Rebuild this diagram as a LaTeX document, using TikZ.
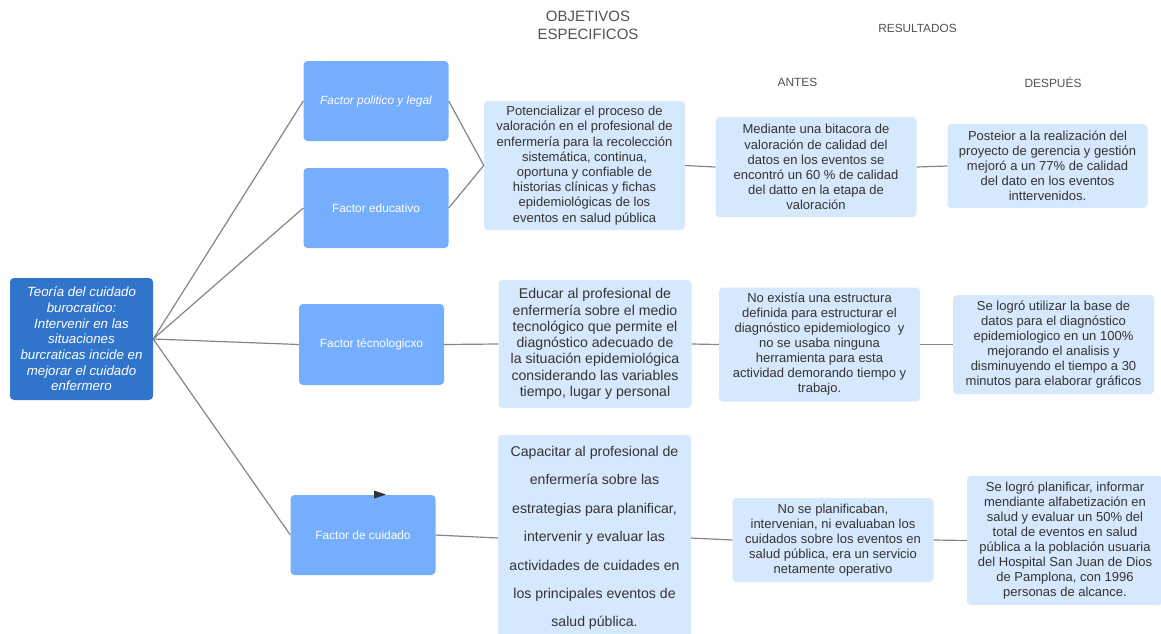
\documentclass[tikz,border=0pt]{standalone}
\usepackage{fontspec}
\setmainfont{Liberation Sans}
\usepackage{tikz}

\definecolor{rootblue}{HTML}{3074CC}
\definecolor{factorblue}{HTML}{74AEFC}
\definecolor{paleblue}{HTML}{D6E8FD}
\definecolor{inkgray}{HTML}{333333}
\definecolor{linkgray}{HTML}{858585}

\tikzset{
	rootbox/.style={draw=none,fill=rootblue,rounded corners=4pt,inner sep=0pt,align=center,text=white,
		minimum width=143pt,minimum height=122pt,font=\fontsize{13.3}{15.7}\selectfont\itshape},
	factorbox/.style={draw=none,fill=factorblue,rounded corners=4pt,inner sep=0pt,align=center,text=white,
		minimum width=145pt,minimum height=79pt,font=\fontsize{11.9}{14}\selectfont},
	objbox/.style={draw=none,fill=paleblue,rounded corners=4pt,inner sep=0pt,align=center,text=inkgray},
	header/.style={text=inkgray!85,align=center,inner sep=0pt},
	link/.style={draw=linkgray,line width=1.2pt},
}

\begin{document}
\begin{tikzpicture}[x=1pt,y=-1pt]
	\useasboundingbox (0,0) rectangle (1161,633);

	% headers
	\node[header,font=\fontsize{15}{17.7}\selectfont] (hobj) at (588,25.5) {OBJETIVOS\\ESPECIFICOS};
	\node[header,font=\fontsize{11.8}{14}\selectfont] (hres) at (917.5,28) {RESULTADOS};
	\node[header,font=\fontsize{11.9}{14}\selectfont] (hantes) at (797.5,82) {ANTES};
	\node[header,font=\fontsize{11.9}{14}\selectfont] (hdesp) at (1053,82) {DESPUÉS};

	% theory and factors
	\node[rootbox] (teoria) at (81.5,339) {Teoría del cuidado\\burocratico:\\Intervenir en las\\situaciones\\burcraticas incide en\\mejorar el cuidado\\enfermero};
	\node[factorbox,font=\fontsize{11.9}{14}\selectfont\itshape,minimum height=80pt] (fpol) at (376,101) {Factor politico y legal};
	\node[factorbox,minimum height=80pt] (fedu) at (376,208) {Factor educativo};
	\node[factorbox,minimum height=81pt] (ftec) at (371.5,344.5) {Factor técnologicxo};
	\node[factorbox,minimum height=80pt] (fcui) at (363,535) {Factor de cuidado};

	% objetivos
	\node[objbox,minimum width=201pt,minimum height=129pt,font=\fontsize{13}{15.2}\selectfont] (obj1) at (584.5,165.5)
		{Potencializar el proceso de\\valoración en el profesional de\\enfermería para la recolección\\sistemática, continua,\\oportuna y confiable de\\historias clínicas y fichas\\epidemiológicas de los\\eventos en salud pública};
	\node[objbox,minimum width=193pt,minimum height=128pt,font=\fontsize{14.1}{16.3}\selectfont] (obj2) at (595,344)
		{Educar al profesional de\\enfermería sobre el medio\\tecnológico que permite el\\diagnóstico adecuado de\\la situación epidemiológica\\considerando las variables\\tiempo, lugar y personal};
	\node[objbox,minimum width=193pt,minimum height=206pt,font=\fontsize{14.1}{28.4}\selectfont] (obj3) at (594.5,538)
		{Capacitar al profesional de\\enfermería sobre las\\estrategias para planificar,\\intervenir y evaluar las\\actividades de cuidades en\\los principales eventos de\\salud pública.};

	% antes
	\node[objbox,minimum width=201pt,minimum height=100pt,font=\fontsize{13}{15.1}\selectfont] (antes1) at (816,167)
		{Mediante una bitacora de\\valoración de calidad del\\datos en los eventos se\\encontró un 60 \% de calidad\\del datto en la etapa de\\valoración};
	\node[objbox,minimum width=201pt,minimum height=114pt,font=\fontsize{13}{15}\selectfont] (antes2) at (819.5,344.5)
		{No existía una estructura\\definida para estructurar el\\diagnóstico epidemiologico\ \ y\\no se usaba ninguna\\herramienta para esta\\actividad demorando tiempo y\\trabajo.};
	\node[objbox,minimum width=201pt,minimum height=84pt,font=\fontsize{13}{15.1}\selectfont] (antes3) at (833,540)
		{No se planificaban,\\intervenian, ni evaluaban los\\cuidados sobre los eventos en\\salud pública, era un servicio\\netamente operativo};

	% despues
	\node[objbox,minimum width=200pt,minimum height=84pt,font=\fontsize{13}{15}\selectfont] (desp1) at (1047.5,166)
		{Posteior a la realización del\\proyecto de gerencia y gestión\\mejoró a un 77\% de calidad\\del dato en los eventos\\inttervenidos.};
	\node[objbox,minimum width=201pt,minimum height=99pt,font=\fontsize{13}{15}\selectfont] (desp2) at (1053.5,344.5)
		{Se logró utilizar la base de\\datos para el diagnóstico\\epidemiologico en un 100\%\\mejorando el analisis y\\disminuyendo el tiempo a 30\\minutos para elaborar gráficos};
	\node[objbox,minimum width=196pt,minimum height=129pt,font=\fontsize{13}{15.1}\selectfont] (desp3) at (1065,540.5)
		{Se logró planificar, informar\\mendiante alfabetización en\\salud y evaluar un 50\% del\\total de eventos en salud\\pública a la población usuaria\\del Hospital San Juan de Dios\\de Pamplona, con 1996\\personas de alcance.};

	% connectors
	\path[link] (teoria.east) to (fpol.west);
	\path[link] (teoria.east) to (fedu.west);
	\path[link] (teoria.east) to (ftec.west);
	\path[link] (teoria.east) to (fcui.west);
	\path[link] (fpol.east) to (obj1.west);
	\path[link] (fedu.east) to (obj1.west);
	\path[link] (ftec.east) to (obj2.west);
	\path[link] (fcui.east) to (obj3.west);
	\path[link] (obj1.east) to (antes1.west);
	\path[link] (obj2.east) to (antes2.west);
	\path[link] (obj3.east) to (antes3.west);
	\path[link] (antes1.east) to (desp1.west);
	\path[link] (antes2.east) to (desp2.west);
	\path[link] (antes3.east) to (desp3.west);

	% stray tip on the care factor
	\fill[inkgray] (374,490.5) -- (386,494.5) -- (374,498.5) -- cycle;

\end{tikzpicture}
\end{document}
